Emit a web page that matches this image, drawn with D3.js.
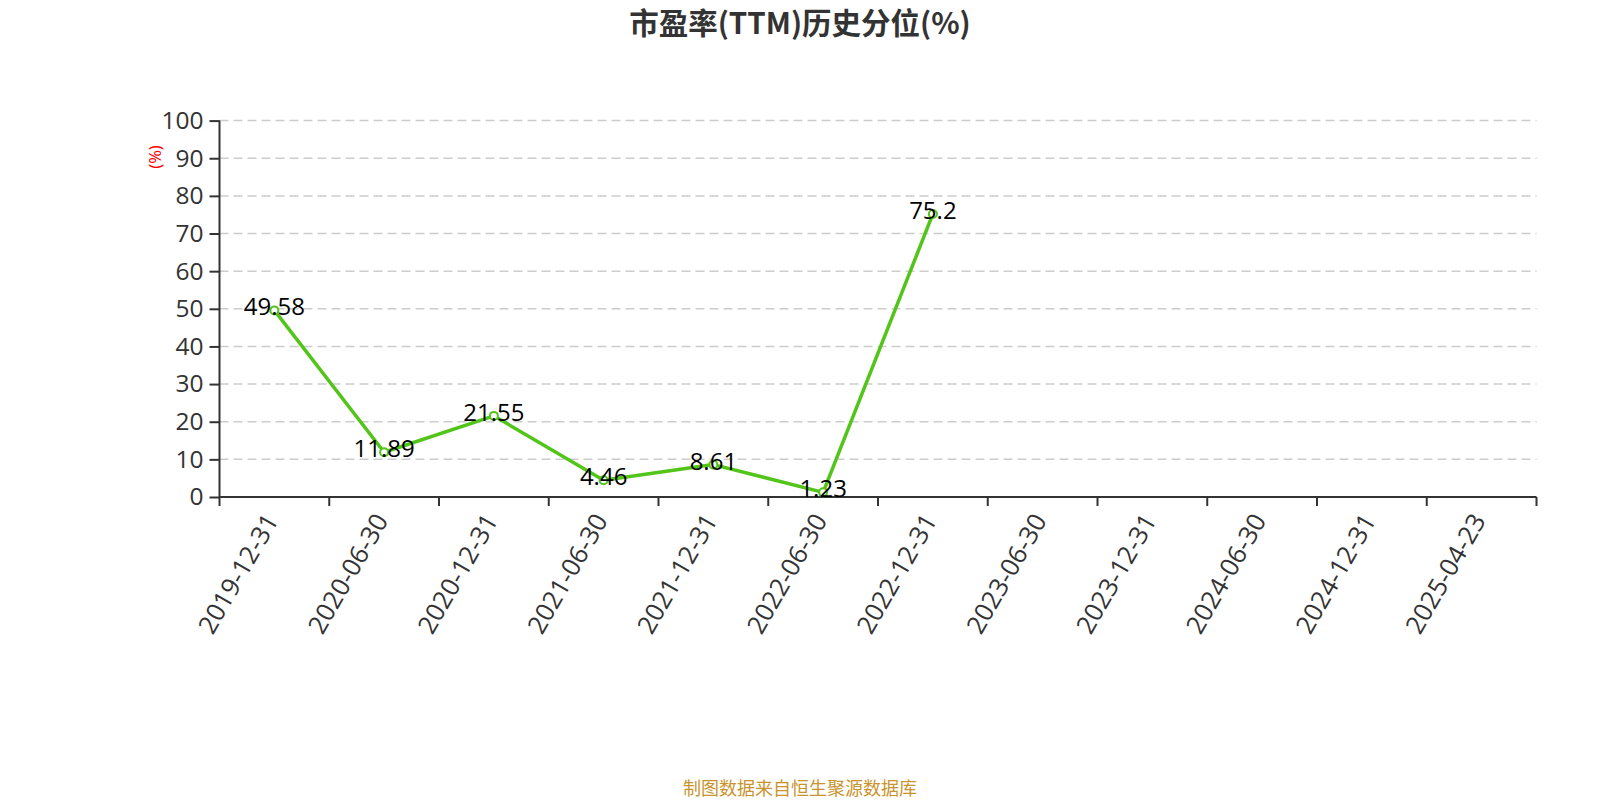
<!DOCTYPE html>
<html><head><meta charset="utf-8">
<script src="https://cdn.jsdelivr.net/npm/d3@7"></script>
<style>body{margin:0;background:#fff;}svg{display:block;font-family:"Noto Sans","Noto Sans CJK SC",sans-serif;}</style>
</head><body>
<svg id="c" width="1600" height="800"></svg>
<script>
const categories = ["2019-12-31","2020-06-30","2020-12-31","2021-06-30","2021-12-31","2022-06-30","2022-12-31","2023-06-30","2023-12-31","2024-06-30","2024-12-31","2025-04-23"];
const values = [49.58, 11.89, 21.55, 4.46, 8.61, 1.23, 75.2, null, null, null, null, null];
const yTicks = [0,10,20,30,40,50,60,70,80,90,100];
const title = "市盈率(TTM)历史分位(%)";
const unit = "(%)";
const footer = "制图数据来自恒生聚源数据库";

const numFont = "'Open Sans','Noto Sans',sans-serif";
const svg = d3.select("#c");
const m = {l:219.5, r:1536.5, t:120.6, b:497};
const x = d3.scaleBand().domain(categories).range([m.l, m.r]);
const y = d3.scaleLinear().domain([0,100]).range([m.b, m.t]);
const cx = c => x(c) + x.bandwidth()/2;

// grid
svg.append("g").selectAll("line").data(yTicks.filter(d=>d>0)).join("line")
  .attr("x1", m.l).attr("x2", m.r).attr("y1", d=>y(d)).attr("y2", d=>y(d))
  .attr("stroke","#ccc").attr("stroke-width",1.5).attr("stroke-dasharray","9,5");

// y axis
const ya = svg.append("g").attr("transform",`translate(${m.l},0)`)
  .call(d3.axisLeft(y).tickValues(yTicks).tickSize(10).tickPadding(6));
ya.select(".domain").attr("stroke","#333").attr("stroke-width",2).attr("d",`M0,${m.t}V${m.b}`);
ya.selectAll(".tick line").attr("stroke","#333").attr("stroke-width",2);
ya.selectAll("text").attr("font-size",24.5).attr("fill","#333").attr("font-family",numFont);

// x axis
const xa = svg.append("g").attr("transform",`translate(0,${m.b})`)
  .call(d3.axisBottom(x).tickSize(0).tickFormat(""));
xa.select(".domain").attr("stroke","#333").attr("stroke-width",2).attr("d",`M${m.l},0H${m.r}`);
const bounds = categories.map(c=>x(c)).concat([m.r]);
xa.append("g").selectAll("line").data(bounds).join("line")
  .attr("x1",d=>d).attr("x2",d=>d).attr("y1",0).attr("y2",9)
  .attr("stroke","#333").attr("stroke-width",2);
xa.append("g").selectAll("text").data(categories).join("text")
  .attr("transform", d=>`translate(${cx(d)-1},${20}) rotate(-60)`)
  .attr("text-anchor","end").attr("dominant-baseline","middle")
  .attr("font-size",25.5).attr("fill","#333").attr("font-family",numFont)
  .text(d=>d);

// unit label
svg.append("text").attr("transform",`translate(157,157) rotate(-90)`)
  .attr("text-anchor","middle").attr("dominant-baseline","middle")
  .attr("font-size",16.5).attr("fill","red").text(unit);

// line
const pts = categories.map((c,i)=>({c, v:values[i]})).filter(d=>d.v!=null);
const line = d3.line().x(d=>cx(d.c)).y(d=>y(d.v));
svg.append("path").datum(pts).attr("d",line).attr("fill","none")
  .attr("stroke","#52c41a").attr("stroke-width",3.5).attr("stroke-linejoin","round");
svg.append("g").selectAll("circle").data(pts).join("circle")
  .attr("cx",d=>cx(d.c)).attr("cy",d=>y(d.v)).attr("r",4)
  .attr("fill","#fff").attr("stroke","#52c41a").attr("stroke-width",2);
svg.append("g").selectAll("text").data(pts).join("text")
  .attr("x",d=>cx(d.c)).attr("y",d=>y(d.v)+5)
  .attr("text-anchor","middle")
  .attr("font-size",24).attr("fill","#000").attr("font-family",numFont)
  .text(d=>d.v);

// title
svg.append("text").attr("x",800).attr("y",34).attr("text-anchor","middle")
  .attr("font-size",29.5).attr("font-weight","bold").attr("fill","#333")
  .attr("font-family","'Noto Sans CJK SC',sans-serif").text(title);

// footer
svg.append("text").attr("x",800).attr("y",790).attr("text-anchor","middle").attr("dominant-baseline","middle")
  .attr("font-size",18).attr("fill","#c9942d")
  .attr("font-family","'Noto Sans CJK SC',sans-serif").text(footer);
</script>
</body></html>
